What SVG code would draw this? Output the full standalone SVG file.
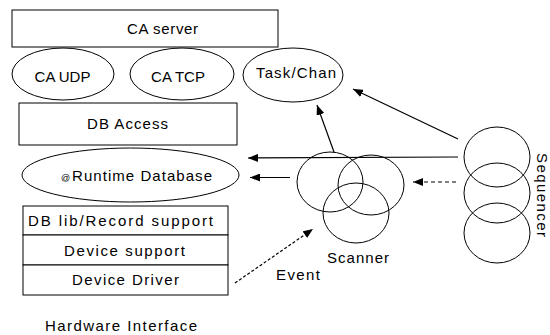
<svg xmlns="http://www.w3.org/2000/svg" width="550" height="335" viewBox="0 0 550 335">
  <style>
    .shape { fill: #fff; stroke: #000; stroke-width: 1; }
    .ring { fill: none; stroke: #000; stroke-width: 1; }
    .lbl { font-family: "Liberation Sans", Arial, sans-serif; font-size: 15px; fill: #000; }
    .mid { text-anchor: middle; }
    .conn { fill: none; stroke: #000; stroke-width: 1.2; }
  </style>
  <defs>
    <marker id="head" viewBox="0 0 10 8" refX="10" refY="4" markerWidth="10" markerHeight="8" markerUnits="userSpaceOnUse" orient="auto">
      <path d="M0,0 L10,4 L0,8 Z" fill="#000"/>
    </marker>
  </defs>
  <rect width="550" height="335" fill="#fff"/>

  <g id="ca-server">
    <rect class="shape" x="12" y="10" width="266" height="37"/>
    <text class="lbl mid" x="162.5" y="34" textLength="71" lengthAdjust="spacing">CA server</text>
  </g>
  <g id="ca-udp">
    <ellipse class="shape" cx="63" cy="74" rx="51" ry="26"/>
    <text class="lbl mid" x="62.5" y="82" font-size="14.5">CA UDP</text>
  </g>
  <g id="ca-tcp">
    <ellipse class="shape" cx="182" cy="74" rx="52" ry="26"/>
    <text class="lbl mid" x="178" y="82" font-size="14.5">CA TCP</text>
  </g>
  <g id="task-chan">
    <ellipse class="shape" cx="293" cy="75" rx="50" ry="27"/>
    <text class="lbl mid" x="296" y="78" textLength="80" lengthAdjust="spacing">Task/Chan</text>
  </g>
  <g id="db-access">
    <rect class="shape" x="19" y="103" width="218" height="42"/>
    <text class="lbl mid" x="127.5" y="129" textLength="81" lengthAdjust="spacing">DB Access</text>
  </g>
  <g id="runtime-db">
    <ellipse class="shape" cx="130.5" cy="175" rx="108.5" ry="27"/>
    <text class="lbl" x="61" y="181"><tspan font-size="9">@</tspan><tspan textLength="140" lengthAdjust="spacing" x="72">Runtime  Database</tspan></text>
  </g>
  <g id="record-support">
    <rect class="shape" x="23" y="206" width="205" height="29"/>
    <text class="lbl mid" x="120.5" y="226" textLength="185" lengthAdjust="spacing">DB  lib/Record  support</text>
  </g>
  <g id="device-support">
    <rect class="shape" x="23" y="235" width="205" height="30"/>
    <text class="lbl mid" x="124.5" y="256" textLength="121" lengthAdjust="spacing">Device  support</text>
  </g>
  <g id="device-driver">
    <rect class="shape" x="23" y="265" width="205" height="30"/>
    <text class="lbl mid" x="125.5" y="285" textLength="107" lengthAdjust="spacing">Device  Driver</text>
  </g>
  <g id="hardware-interface">
    <text class="lbl mid" x="121" y="331" textLength="152" lengthAdjust="spacing">Hardware  Interface</text>
  </g>
  <g id="scanner">
    <ellipse class="ring" cx="330" cy="182" rx="33" ry="30"/>
    <ellipse class="ring" cx="371" cy="185" rx="33" ry="30"/>
    <ellipse class="ring" cx="356" cy="213" rx="33" ry="30"/>
    <text class="lbl mid" x="358" y="263" textLength="62" lengthAdjust="spacing">Scanner</text>
  </g>
  <g id="sequencer">
    <ellipse class="ring" cx="497" cy="157" rx="33" ry="30"/>
    <ellipse class="ring" cx="497" cy="193" rx="33" ry="30"/>
    <ellipse class="ring" cx="497" cy="233" rx="33" ry="30"/>
    <text class="lbl mid" transform="translate(536.5 195) rotate(90)" x="0" y="0" textLength="84" lengthAdjust="spacing">Sequencer</text>
  </g>
  <g id="event-label">
    <text class="lbl" x="276" y="280" textLength="44" lengthAdjust="spacing">Event</text>
  </g>

  <g id="connectors">
    <line class="conn" x1="458" y1="139" x2="353" y2="89" marker-end="url(#head)"/>
    <line class="conn" x1="334" y1="152" x2="317" y2="105" marker-end="url(#head)"/>
    <line class="conn" x1="458" y1="157" x2="248" y2="158" stroke="#333" stroke-width="1" marker-end="url(#head)"/>
    <line class="conn" x1="290" y1="177.5" x2="250" y2="177.5" stroke-width="2" marker-end="url(#head)"/>
    <line class="conn" x1="456" y1="182" x2="413" y2="182" stroke-dasharray="4,3" marker-end="url(#head)"/>
    <line class="conn" x1="235" y1="283" x2="313" y2="229" stroke-width="1" stroke-dasharray="3,2" marker-end="url(#head)"/>
  </g>
</svg>
